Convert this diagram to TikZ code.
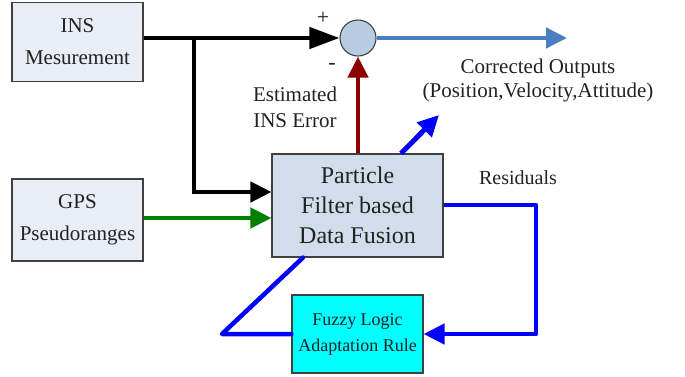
\documentclass[tikz,border=0pt]{standalone}
\usepackage{fontspec}
\setmainfont{Liberation Serif}
\usetikzlibrary{arrows.meta,calc}

\definecolor{boxfill}{HTML}{E8EDF6}
\definecolor{pffill}{HTML}{D2DDEC}
\definecolor{sumfill}{HTML}{B7CBE3}
\definecolor{fuzzyfill}{HTML}{00FFFF}
\definecolor{outblue}{HTML}{4A7EC2}
\definecolor{errred}{HTML}{8B0000}
\definecolor{gpsgreen}{HTML}{008000}
\definecolor{txt}{HTML}{222222}

\tikzset{
  block/.style={draw=black!75, line width=1.1pt, fill=boxfill, text=txt,
    align=center, inner sep=0pt},
  conn/.style={line width=4.5pt, line join=miter},
  bigtip/.style={-{Triangle[length=21pt,width=20pt]}},
  longtip/.style={-{Triangle[length=30pt,width=21pt]}},
  loop/.style={draw=blue, line width=4.5pt, line cap=round, line join=round}
}

\begin{document}
\begin{tikzpicture}[x=1pt,y=-1pt]
\useasboundingbox (0,0) rectangle (685,376);

% blocks
\node[block, minimum width=131pt, minimum height=79pt,
  font=\fontsize{21}{32}\selectfont] (ins) at (77.5,42) {INS\\Mesurement};
\node[block, minimum width=131pt, minimum height=82pt,
  font=\fontsize{21}{32}\selectfont] (gps) at (77.5,220) {GPS\\Pseudoranges};
\node[block, fill=pffill, minimum width=171pt, minimum height=103pt,
  font=\fontsize{24}{30}\selectfont] (pf) at (357.5,205.5) {Particle\\Filter based\\Data Fusion};
\node[block, fill=fuzzyfill, minimum width=131pt, minimum height=78pt,
  font=\fontsize{18}{26}\selectfont] (fz) at (357.5,334) {Fuzzy Logic\\Adaptation Rule};
\node[circle, draw=black!75, line width=1.1pt, fill=sumfill,
  minimum size=36pt, inner sep=0pt] (sum) at (358,38) {};

% free ends, corners and entry points
\coordinate (br) at (194,38);
\coordinate (out) at (567,38);
\coordinate (corr) at (439,115);
\coordinate (rescorner) at (536,205);
\coordinate (fbcorner) at (222,334);
\coordinate (pfinA) at ([yshift=13.5pt]pf.west);
\coordinate (pfinB) at ([yshift=-12.5pt]pf.west);
\coordinate (pfoutC) at ([xshift=43.5pt]pf.north);
\coordinate (pfinD) at ([xshift=-54.5pt]pf.south);

% INS measurement to the summing junction and the filter
\draw[conn, longtip] (sum.west -| ins.east) -- (sum.west);
\draw[conn, bigtip] (br) |- (pfinA);

% GPS pseudoranges into the filter
\draw[conn, gpsgreen, bigtip] (gps.east |- pfinB) -- (pfinB);

% estimated INS error
\draw[conn, errred, bigtip] (sum.south |- pf.north) -- (sum.south);

% corrected outputs
\draw[conn, outblue, bigtip] (sum.east) -- (out);
\draw[conn, blue, line width=5pt, bigtip] (pfoutC) -- (corr);

% residual loop through the fuzzy adaptation
\draw[loop, bigtip, line cap=butt] (pf.east |- rescorner) -- (rescorner) |- (fz.east);
\draw[loop] (fz.west) -- (fbcorner) -- (pfinD);

% labels
\node[font=\fontsize{22}{22}\selectfont, text=txt] (plus) at (323,18) {+};
\node[font=\fontsize{22}{22}\selectfont, text=txt] (minus) at (332,66) {-};
\node[font=\fontsize{21}{26}\selectfont, text=txt, align=center] (errlbl) at (295,107) {Estimated\\INS Error};
\node[font=\fontsize{21}{24}\selectfont, text=txt, align=center] (outlbl) at (538,80) {Corrected Outputs\\(Position,Velocity,Attitude)};
\node[font=\fontsize{20}{20}\selectfont, text=txt] (reslbl) at (518,178) {Residuals};
\end{tikzpicture}
\end{document}
